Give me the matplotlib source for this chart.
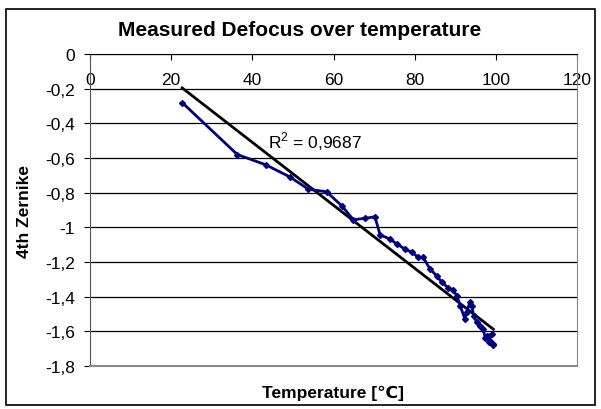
import numpy as np
import matplotlib
matplotlib.use("Agg")
import matplotlib.pyplot as plt
from matplotlib.patches import Rectangle

plt.rcParams['font.family'] = ['Liberation Sans', 'DejaVu Sans']
plt.rcParams['mathtext.fontset'] = 'custom'
plt.rcParams['mathtext.rm'] = 'Liberation Sans'

temperature = [22.7, 36.3, 43.4, 49.3, 53.8, 58.3, 62.0, 64.9, 67.8, 70.2,
               71.5, 73.9, 75.6, 77.6, 79.3, 80.9, 82.1, 83.8, 85.4, 86.7,
               88.3, 89.5, 90.4, 91.2, 92.4, 92.8, 93.6, 94.1, 94.5, 95.3,
               96.1, 96.9, 97.4, 97.8, 99.0, 98.2, 98.6, 99.2, 99.4]
zernike4 = [-0.28, -0.58, -0.64, -0.71, -0.78, -0.795, -0.875, -0.956, -0.948, -0.939,
            -1.044, -1.067, -1.096, -1.125, -1.144, -1.173, -1.173, -1.241, -1.279, -1.317,
            -1.350, -1.362, -1.396, -1.452, -1.529, -1.490, -1.433, -1.452, -1.510, -1.548,
            -1.568, -1.587, -1.640, -1.625, -1.616, -1.660, -1.654, -1.680, -1.673]
r2_label = "R$^\\mathrm{2}$ = 0,9687"

x_ticks = [0, 20, 40, 60, 80, 100, 120]
y_ticks = [0, -0.2, -0.4, -0.6, -0.8, -1, -1.2, -1.4, -1.6, -1.8]


def excel_fmt(v):
    s = f"{v:g}".replace(".", ",")
    return "0" if s == "-0" else s


fig = plt.figure(figsize=(6.01, 4.10), dpi=100)
ax = fig.add_axes([90 / 601, 1 - 367 / 410, 487 / 601, 312 / 410])

# linear trendline over the data range
slope, intercept = np.polyfit(temperature, zernike4, 1)
tx = np.array([min(temperature), max(temperature)])
ax.plot(tx, slope * tx + intercept, color='black', lw=2, zorder=3)

ax.plot(temperature, zernike4, color='#000080', lw=2, marker='D', ms=3,
        zorder=4)

ax.set_xlim(0, 120)
ax.set_ylim(-1.8, 0)
ax.set_xticks(x_ticks)
ax.set_xticklabels([excel_fmt(v) for v in x_ticks])
ax.set_yticks(y_ticks)
ax.set_yticklabels([excel_fmt(v) for v in y_ticks])

ax.tick_params(axis='x', top=True, bottom=False, labeltop=True,
               labelbottom=False, direction='in', length=4, pad=-24,
               labelsize=12.5)
ax.tick_params(axis='y', direction='out', length=4, pad=7, labelsize=12.5)

ax.yaxis.grid(True, color='black', lw=0.9)
ax.set_axisbelow(True)

ax.spines['top'].set_color('black')
ax.spines['left'].set_color('#555555')
ax.spines['right'].set_color('#888888')
ax.spines['bottom'].set_color('#888888')
ax.spines['bottom'].set_linewidth(1.5)

ax.text(43.9, -0.50, r2_label, fontsize=12.5, va='center', ha='left')

fig.text(300 / 601, 1 - 31 / 410, "Measured Defocus over temperature",
         ha='center', va='center', fontsize=15, fontweight='bold')
fig.text(333 / 601, 1 - 393 / 410, "Temperature [℃]",
         ha='center', va='center', fontsize=12.5, fontweight='bold')
fig.text(25 / 601, 1 - 211 / 410, "4th Zernike", rotation=90,
         ha='center', va='center', fontsize=12.5, fontweight='bold')

fig.patches.append(Rectangle((6 / 601, 4 / 410), 589 / 601, 396 / 410,
                             transform=fig.transFigure, fill=False,
                             edgecolor='black', lw=1.2))

fig.savefig("out.png", dpi=100)
